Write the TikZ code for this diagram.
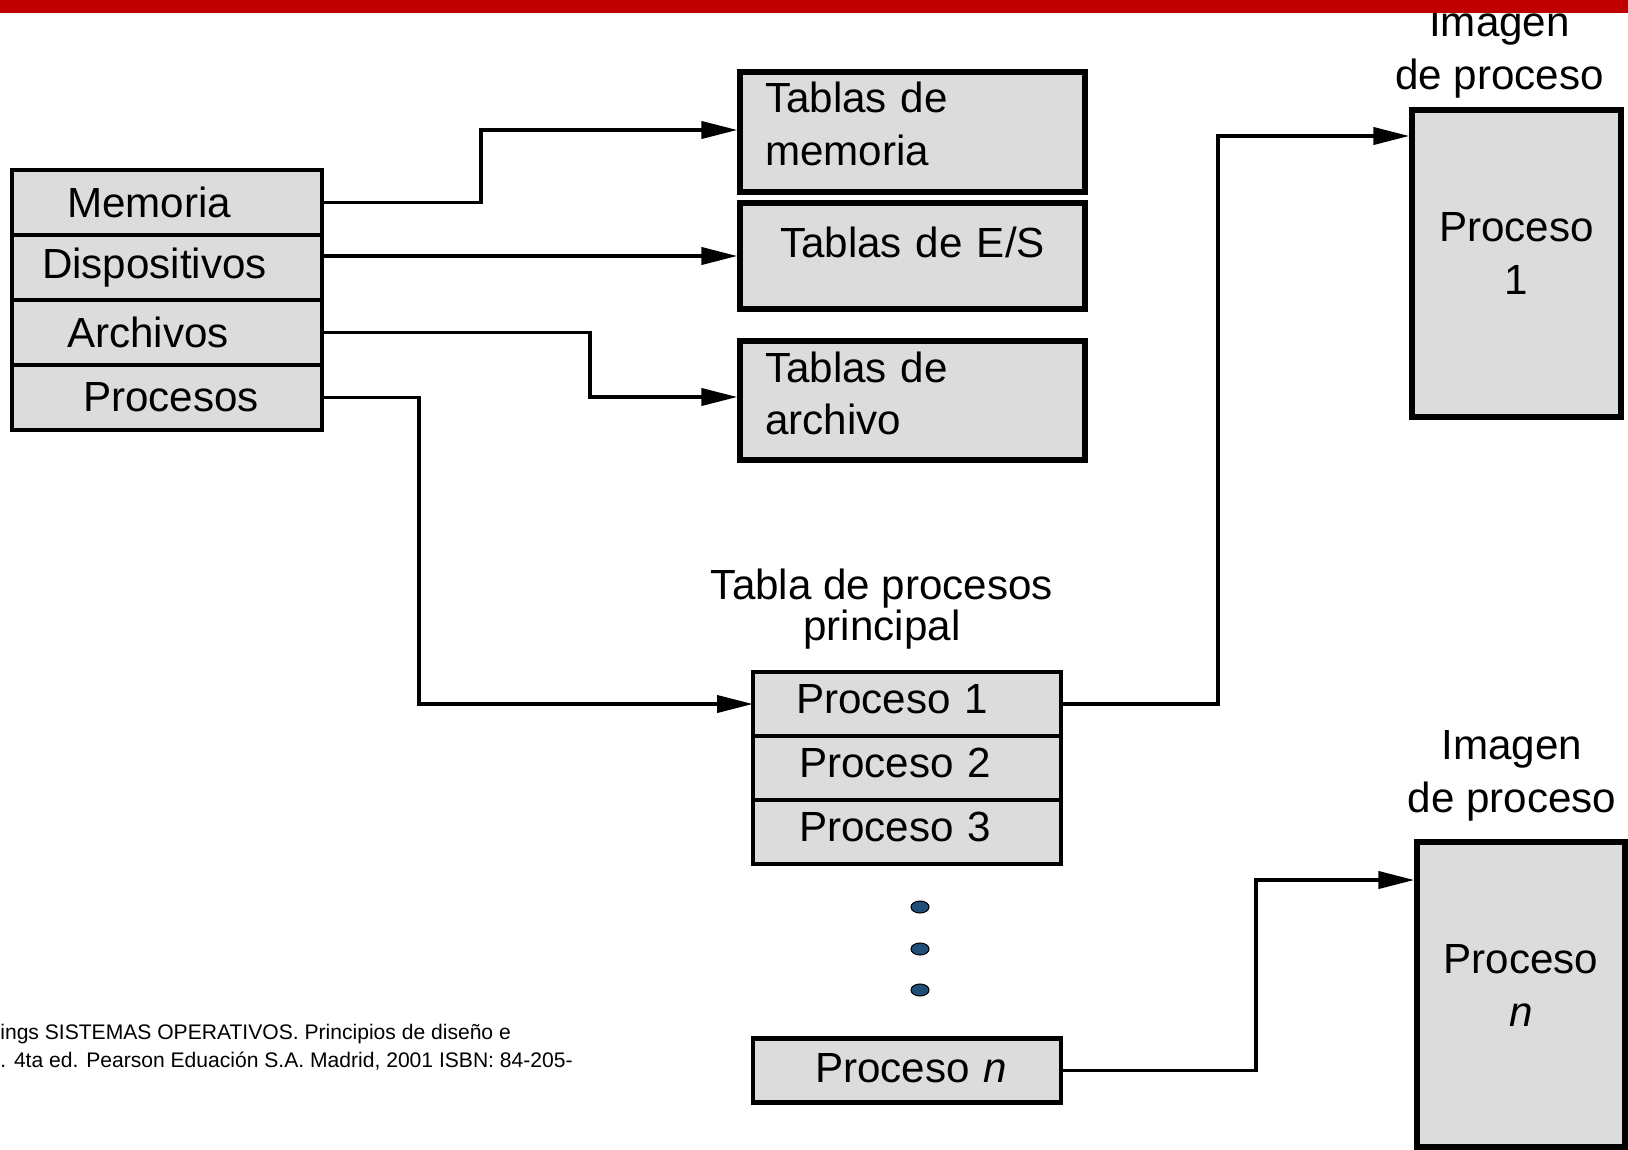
\documentclass[tikz,border=0pt]{standalone}
\usepackage{fontspec}
\setmainfont{Liberation Sans}
\usetikzlibrary{arrows.meta,positioning,shapes.geometric}
\definecolor{cajagris}{HTML}{DCDCDC}
\definecolor{rojobarra}{HTML}{C00000}
\definecolor{azulpunto}{HTML}{1F4E79}

\begin{document}
\begin{tikzpicture}[x=0.02cm,y=-0.02cm,
    caja/.style={draw,line width=3pt,fill=cajagris,inner sep=0pt,font=\fontsize{24}{30}\selectfont},
    filaizq/.style={caja,line width=2.5pt,outer sep=0pt,minimum width=6.2cm,minimum height=1.3cm,text width=5.6cm,align=left},
    filaproc/.style={caja,line width=2.5pt,outer sep=0pt,minimum width=6.16cm,minimum height=1.28cm,text width=5.6cm,align=left,text depth=0.22cm},
    tabla/.style={caja,minimum width=6.9cm,text width=5.9cm,align=left},
    imagen/.style={caja,align=center},
    rotulo/.style={inner sep=0pt,align=center,font=\fontsize{24}{30}\selectfont},
    punto/.style={ellipse,draw,line width=0.6pt,fill=azulpunto,minimum width=0.36cm,minimum height=0.24cm,inner sep=0pt},
    cita/.style={anchor=west,align=left,inner sep=0pt,font=\fontsize{12}{16}\selectfont},
    flecha/.style={line width=2.2pt,-{Triangle[length=0.72cm,width=0.34cm]}}]
    \useasboundingbox (0,0) rectangle (1628,1149);

    \node[filaizq] (mem) at (167,202.5) {\hspace*{0.8cm}Memoria};
    \node[filaizq,below=0pt of mem] (disp) {\hspace*{0.3cm}Dispositivos};
    \node[filaizq,below=0pt of disp] (arch) {\hspace*{0.8cm}Archivos};
    \node[filaizq,below=0pt of arch] (proc) {\hspace*{1.12cm}Procesos};

    \node[tabla,minimum height=2.4cm,text depth=1.39cm] (tmem) at (912.5,132) {Tablas de\\memoria};
    \node[tabla,minimum height=2.12cm,align=center,text depth=0.55cm] (tes) at (912.5,256) {Tablas de E/S};
    \node[tabla,minimum height=2.38cm,text depth=1.35cm] (tarch) at (912.5,400.5) {Tablas de\\archivo};

    \node[filaproc] (p1) at (907,704) {\hspace*{0.58cm}Proceso 1};
    \node[filaproc,below=0pt of p1] (p2) {\hspace*{0.64cm}Proceso 2};
    \node[filaproc,below=0pt of p2] (p3) {\hspace*{0.64cm}Proceso 3};
    \node[filaproc,text depth=0.1cm] (pn) at (907,1070.5) {\hspace*{0.96cm}Proceso \textit{n}};
    \node[rotulo,font=\fontsize{24}{22}\selectfont,above=0.44cm of p1,xshift=-0.5cm] (etqtabla) {Tabla de procesos\\principal};

    \foreach \i/\y in {1/907,2/949,3/990}
        \node[punto] (punto\i) at (920,\y) {};

    \node[imagen,minimum width=4.18cm,minimum height=6.14cm,text depth=0.4cm] (im1) at (1516.5,263.5) {Proceso\\1};
    \node[imagen,minimum width=4.16cm,minimum height=6.1cm,text depth=0.35cm] (imn) at (1521,994.5) {Proceso\\\textit{n}};
    \node[rotulo,above=0.18cm of im1,xshift=-0.34cm] (etq1) {Imagen\\de proceso};
    \node[rotulo,above=0.36cm of imn,xshift=-0.18cm] (etqn) {Imagen\\de proceso};

    \coordinate (codomem) at (481,130);
    \coordinate (codoarch) at (590,397);
    \coordinate (codoproc) at (419,704);
    \coordinate (codop1) at (1218,136);
    \coordinate (codopn) at (1256,880);
    \draw[flecha] (mem.east) -| (codomem) -- (codomem -| tmem.west);
    \draw[flecha] (tes.west -| disp.east) -- (tes.west);
    \draw[flecha] (arch.east) -| (codoarch) -- (codoarch -| tarch.west);
    \draw[flecha] (proc.east) -| (codoproc) -- (p1.west);
    \draw[flecha] (p1.east) -| (codop1) -- (codop1 -| im1.west);
    \draw[flecha] (pn.east) -| (codopn) -- (codopn -| imn.west);

    \node[cita] (cita) at (0,1047) {ings SISTEMAS OPERATIVOS. Principios de diseño e\\. 4ta ed. Pearson Eduación S.A. Madrid, 2001 ISBN: 84-205-};

    \fill[rojobarra] (0,0) rectangle (1628,13);
\end{tikzpicture}
\end{document}
